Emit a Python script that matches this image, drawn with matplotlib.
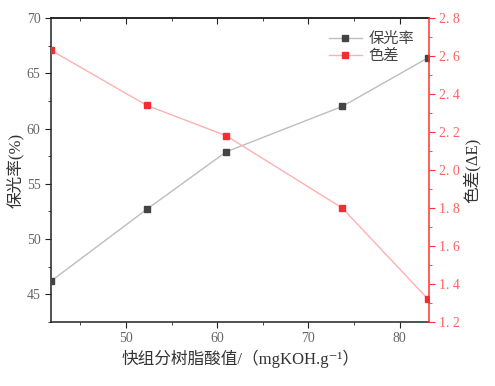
import matplotlib
matplotlib.use("Agg")
import matplotlib.pyplot as plt
from matplotlib.ticker import MultipleLocator

plt.rcParams['font.family'] = ['Liberation Serif', 'Noto Sans CJK SC', 'DejaVu Sans']

acid_value = [41.8, 52.3, 61.0, 73.7, 83.1]
retention = [46.2, 52.7, 57.9, 62.0, 66.4]
color_diff = [2.63, 2.34, 2.18, 1.80, 1.32]

x_ticks = [50, 60, 70, 80]
left_ticks = [45, 50, 55, 60, 65, 70]
right_ticks = [1.2, 1.4, 1.6, 1.8, 2.0, 2.2, 2.4, 2.6, 2.8]

gray_txt = '#666666'
red_axis = '#ff3030'
red_txt = '#ff6060'
lab_fam = ['Liberation Serif', 'Noto Sans CJK SC', 'DejaVu Sans']

fig = plt.figure(figsize=(4.95, 3.86), dpi=100)
ax = fig.add_axes([51/495, 1-322/386, (429-51)/495, (322-18)/386])
ax2 = ax.twinx()

l1, = ax.plot(acid_value, retention, color='#bdbdbd', lw=1, marker='s', ms=5,
              mfc='#444444', mec='#444444', label='保光率', zorder=3)
l2, = ax2.plot(acid_value, color_diff, color='#ffb0b0', lw=1, marker='s', ms=5,
               mfc='#f03030', mec='#f03030', label='色差', zorder=3)

ax.set_xlim(41.8, 83.2)
ax.set_ylim(42.5, 70)
ax2.set_ylim(1.2, 2.8)
ax.set_xticks(x_ticks)
ax.set_yticks(left_ticks)
ax2.set_yticks(right_ticks)
ax2.set_yticklabels([f'{v:.1f}'.replace('.', '. ') for v in right_ticks])
ax.xaxis.set_minor_locator(MultipleLocator(5))
ax.yaxis.set_minor_locator(MultipleLocator(2.5))
ax2.yaxis.set_minor_locator(MultipleLocator(0.1))

for s in ['left', 'bottom', 'top']:
    ax.spines[s].set_color('#222222')
    ax.spines[s].set_linewidth(1.1)
ax2.spines['right'].set_color(red_axis)
ax2.spines['right'].set_linewidth(1.1)
ax.spines['right'].set_visible(False)
for s in ['left', 'bottom', 'top']:
    ax2.spines[s].set_visible(False)

ax.tick_params(axis='x', which='both', direction='out', labelsize=10,
               labelcolor=gray_txt, color='#222222')
ax.tick_params(axis='x', which='major', length=4)
ax.tick_params(axis='x', which='minor', length=2.5)
ax.tick_params(axis='y', which='both', direction='out', labelsize=10,
               labelcolor=gray_txt, color='#222222')
ax.tick_params(axis='y', which='major', length=4)
ax.tick_params(axis='y', which='minor', length=2.5)
ax2.tick_params(axis='y', which='both', direction='out', labelsize=10,
                labelcolor=red_txt, color=red_axis)
ax2.tick_params(axis='y', which='major', length=4)
ax2.tick_params(axis='y', which='minor', length=2.5)

top = ax.secondary_xaxis('top')
top.set_xticks(x_ticks)
top.xaxis.set_minor_locator(MultipleLocator(5))
top.tick_params(axis='x', which='both', direction='in', labeltop=False, color='#222222')
top.tick_params(axis='x', which='major', length=4)
top.tick_params(axis='x', which='minor', length=2.5)
top.spines['top'].set_color('#222222')
top.spines['top'].set_linewidth(1.1)

ax.set_xlabel('快组分树脂酸值/（mgKOH.g⁻¹）', fontsize=12, color='#333333',
              family=lab_fam, labelpad=3)
ax.set_ylabel('保光率(%)', fontsize=12, color='#333333',
              family=lab_fam, labelpad=2)
ax2.set_ylabel('色差(ΔE)', fontsize=12, color='#333333',
               family=lab_fam, labelpad=2)

leg = ax.legend(handles=[l1, l2], loc='upper right', bbox_to_anchor=(0.985, 0.99),
                frameon=False, handlelength=2.2, handletextpad=0.4,
                borderaxespad=0.2, labelspacing=0.0,
                prop={'family': ['Noto Sans CJK SC', 'DejaVu Sans'], 'size': 11})
for t in leg.get_texts():
    t.set_color('#444444')

fig.savefig('out.png', dpi=100)
